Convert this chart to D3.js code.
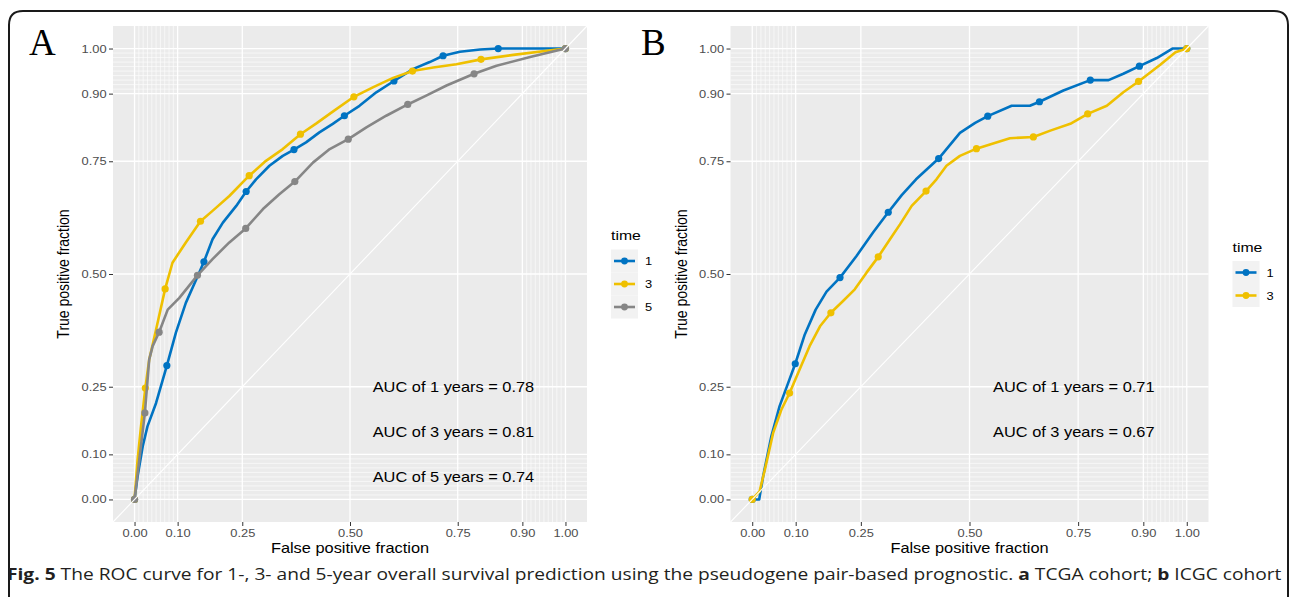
<!DOCTYPE html>
<html>
<head>
<meta charset="utf-8">
<script src="https://cdn.jsdelivr.net/npm/d3@7"></script>
<style>
  body { margin: 0; background: #fff; }
  svg { display: block; }
</style>
</head>
<body>
<div id="chart-area"></div>
<script>
// ROC curves, two panels (TCGA / ICGC)

const svgWidth = 1292;
const svgHeight = 597;
const SX = 1.17;  // the figure is a bit stretched sideways

// axis breaks (plotROC style)
var majorBreaks = [0, 0.1, 0.25, 0.5, 0.75, 0.9, 1];
var minorBreaks = [0.01, 0.02, 0.03, 0.04, 0.05, 0.06, 0.07, 0.08, 0.09,
                   0.91, 0.92, 0.93, 0.94, 0.95, 0.96, 0.97, 0.98, 0.99];

var times = ["1", "3", "5"];
var colors = {"1": "#0073C2", "3": "#EFC000", "5": "#868686"};

// panel A (TCGA) : [false positive fraction, true positive fraction]
var aYear1 = [[0,0],[0.007,0.051],[0.019,0.118],[0.030,0.162],[0.050,0.214],[0.075,0.297],
  [0.096,0.370],[0.119,0.436],[0.147,0.496],[0.161,0.527],[0.181,0.577],[0.205,0.614],
  [0.236,0.651],[0.259,0.683],[0.282,0.710],[0.313,0.740],[0.344,0.762],[0.370,0.776],
  [0.398,0.792],[0.429,0.814],[0.460,0.833],[0.487,0.851],[0.522,0.873],[0.561,0.903],
  [0.602,0.928],[0.647,0.955],[0.685,0.970],[0.716,0.984],[0.755,0.993],[0.802,0.998],
  [0.844,1.0],[1,1]];
var aYear1Cuts = [0, 5, 9, 13, 17, 21, 24, 27, 30, 31];

var aYear3 = [[0,0],[0.007,0.088],[0.015,0.162],[0.025,0.247],[0.034,0.310],[0.050,0.377],
  [0.071,0.467],[0.088,0.525],[0.119,0.570],[0.153,0.617],[0.181,0.640],[0.220,0.673],
  [0.266,0.718],[0.305,0.751],[0.344,0.777],[0.385,0.810],[0.422,0.834],[0.460,0.860],
  [0.509,0.893],[0.553,0.914],[0.600,0.935],[0.645,0.950],[0.693,0.958],[0.747,0.965],
  [0.804,0.976],[0.879,0.986],[1,1]];
var aYear3Cuts = [0, 3, 6, 9, 12, 15, 18, 21, 24, 26];

var aYear5 = [[0,0],[0.011,0.088],[0.024,0.192],[0.034,0.310],[0.042,0.340],[0.057,0.371],
  [0.077,0.421],[0.104,0.447],[0.146,0.497],[0.181,0.533],[0.220,0.570],[0.258,0.601],
  [0.298,0.644],[0.336,0.677],[0.372,0.705],[0.414,0.747],[0.453,0.777],[0.496,0.799],
  [0.538,0.825],[0.584,0.851],[0.634,0.876],[0.678,0.896],[0.724,0.918],[0.788,0.944],
  [0.840,0.962],[0.918,0.981],[1,1]];
var aYear5Cuts = [0, 2, 5, 8, 11, 14, 17, 20, 23, 26];

var aAuc = ["AUC of 1 years = 0.78", "AUC of 3 years = 0.81", "AUC of 5 years = 0.74"];

// panel B (ICGC)
var bYear1 = [[0,0],[0.016,0],[0.025,0.051],[0.044,0.140],[0.063,0.207],[0.083,0.259],
  [0.099,0.301],[0.121,0.366],[0.146,0.421],[0.171,0.461],[0.202,0.492],[0.240,0.540],
  [0.278,0.592],[0.313,0.637],[0.344,0.675],[0.377,0.710],[0.429,0.756],[0.478,0.813],
  [0.513,0.835],[0.542,0.850],[0.597,0.873],[0.639,0.873],[0.661,0.882],[0.716,0.907],
  [0.778,0.930],[0.820,0.930],[0.854,0.944],[0.891,0.961],[0.931,0.979],[0.967,1.0],[1,1]];
var bYear1Cuts = [0, 6, 10, 13, 16, 19, 22, 24, 27, 30];

var bYear3 = [[0,0],[0.017,0.018],[0.029,0.066],[0.048,0.147],[0.067,0.199],[0.086,0.236],
  [0.109,0.288],[0.132,0.340],[0.156,0.384],[0.181,0.414],[0.209,0.440],[0.236,0.466],
  [0.263,0.503],[0.290,0.538],[0.317,0.577],[0.340,0.610],[0.367,0.651],[0.400,0.684],
  [0.424,0.710],[0.447,0.740],[0.478,0.762],[0.516,0.778],[0.547,0.787],[0.593,0.801],
  [0.647,0.804],[0.686,0.818],[0.732,0.833],[0.772,0.855],[0.816,0.873],[0.854,0.903],
  [0.889,0.927],[0.939,0.964],[0.974,0.992],[1,1]];
var bYear3Cuts = [0, 5, 9, 13, 17, 21, 24, 27, 30, 33];

var bAuc = ["AUC of 1 years = 0.71", "AUC of 3 years = 0.67"];
var aucY = [0.25, 0.15, 0.05];

var svg = d3.select("#chart-area")
    .append("svg")
        .attr("width", svgWidth)
        .attr("height", svgHeight);

// outer frame
svg.append("path")
    .attr("d", "M9,598 L9,25 Q9,11 23,11 L1274,11 Q1288,11 1288,25 L1288,598")
    .attr("fill", "none")
    .attr("stroke", "#1a1a1a")
    .attr("stroke-width", 2);

function drawPanel(p) {
    var x = d3.scaleLinear().domain([-0.05, 1.05]).range([p.left, p.right]);
    var y = d3.scaleLinear().domain([-0.05, 1.05]).range([p.bottom, p.top]);
    var g = svg.append("g");

    // background
    g.append("rect")
        .attr("x", p.left).attr("y", p.top)
        .attr("width", p.right - p.left).attr("height", p.bottom - p.top)
        .attr("fill", "#EBEBEB");

    // minor grid
    g.selectAll(".vminor").data(minorBreaks).enter().append("line")
        .attr("x1", function(d){ return x(d); }).attr("x2", function(d){ return x(d); })
        .attr("y1", p.top).attr("y2", p.bottom)
        .attr("stroke", "#fff").attr("stroke-width", 0.6);
    g.selectAll(".hminor").data(minorBreaks).enter().append("line")
        .attr("y1", function(d){ return y(d); }).attr("y2", function(d){ return y(d); })
        .attr("x1", p.left).attr("x2", p.right)
        .attr("stroke", "#fff").attr("stroke-width", 0.6);
    // major grid
    g.selectAll(".vmajor").data(majorBreaks).enter().append("line")
        .attr("x1", function(d){ return x(d); }).attr("x2", function(d){ return x(d); })
        .attr("y1", p.top).attr("y2", p.bottom)
        .attr("stroke", "#fff").attr("stroke-width", 1.3);
    g.selectAll(".hmajor").data(majorBreaks).enter().append("line")
        .attr("y1", function(d){ return y(d); }).attr("y2", function(d){ return y(d); })
        .attr("x1", p.left).attr("x2", p.right)
        .attr("stroke", "#fff").attr("stroke-width", 1.3);

    // curves
    var line = d3.line()
        .x(function(d){ return x(d[0]); })
        .y(function(d){ return y(d[1]); });

    p.series.forEach(function(s){
        g.append("path")
            .datum(s.values)
            .attr("d", line)
            .attr("fill", "none")
            .attr("stroke", colors[s.time])
            .attr("stroke-width", 2.6)
            .attr("stroke-linejoin", "round");
        g.selectAll(null)
            .data(s.cuts.map(function(i){ return s.values[i]; }))
            .enter().append("circle")
            .attr("cx", function(d){ return x(d[0]); })
            .attr("cy", function(d){ return y(d[1]); })
            .attr("r", 3.6)
            .attr("fill", colors[s.time]);
    });

    // reference diagonal (drawn on top like the ggplot layer)
    g.append("line")
        .attr("x1", x(-0.05)).attr("y1", y(-0.05))
        .attr("x2", x(1.05)).attr("y2", y(1.05))
        .attr("stroke", "#fff").attr("stroke-width", 1.1);

    // AUC labels
    p.auc.forEach(function(t, i){
        g.append("text")
            .attr("transform", "translate(" + x(0.74) + "," + (y(aucY[i]) + 5) + ") scale(" + SX + ",1)")
            .attr("text-anchor", "middle")
            .attr("font-family", "Liberation Sans, Arial, sans-serif")
            .attr("font-size", "14px")
            .attr("fill", "#000")
            .text(t);
    });

    // axes
    var xAxisCall = d3.axisBottom(x).tickValues(majorBreaks)
        .tickFormat(d3.format(".2f")).tickSize(4).tickSizeOuter(0);
    var xg = g.append("g")
        .attr("transform", "translate(0," + p.bottom + ")")
        .call(xAxisCall);
    var yAxisCall = d3.axisLeft(y).tickValues(majorBreaks)
        .tickFormat(d3.format(".2f")).tickSize(4).tickSizeOuter(0);
    var yg = g.append("g")
        .attr("transform", "translate(" + p.left + ",0)")
        .call(yAxisCall);
    [xg, yg].forEach(function(a){
        a.select(".domain").remove();
        a.selectAll(".tick line").attr("stroke", "#333333").attr("stroke-width", 1);
        a.selectAll(".tick text")
            .attr("fill", "#4D4D4D")
            .attr("font-family", "Liberation Sans, Arial, sans-serif")
            .attr("font-size", "11px")
            .attr("transform", "scale(" + SX + ",1)");
    });
    xg.selectAll(".tick text").attr("y", 7);
    yg.selectAll(".tick text").attr("x", -5.5);

    // axis titles
    g.append("text")
        .attr("transform", "translate(" + ((p.left + p.right) / 2) + "," + (p.bottom + 31) + ") scale(" + SX + ",1)")
        .attr("text-anchor", "middle")
        .attr("font-family", "Liberation Sans, Arial, sans-serif")
        .attr("font-size", "14px")
        .text("False positive fraction");
    g.append("text")
        .attr("transform", "translate(" + (p.left - 44) + "," + ((p.top + p.bottom) / 2) + ") scale(" + SX + ",1) rotate(-90)")
        .attr("text-anchor", "middle")
        .attr("font-family", "Liberation Sans, Arial, sans-serif")
        .attr("font-size", "14px")
        .text("True positive fraction");

    // legend
    var keyH = 23, keyW = 27;
    var n = p.series.length;
    var lx = p.right + 24;
    var ly = (p.top + p.bottom) / 2 - (n * keyH) / 2 + 10;
    var leg = g.append("g");
    leg.append("text")
        .attr("transform", "translate(" + lx + "," + (ly - 9.5) + ") scale(" + SX + ",1)")
        .attr("font-family", "Liberation Sans, Arial, sans-serif")
        .attr("font-size", "13.5px")
        .text("time");
    p.series.forEach(function(s, i){
        var ky = ly + i * keyH;
        leg.append("rect")
            .attr("x", lx).attr("y", ky).attr("width", keyW).attr("height", keyH)
            .attr("fill", "#F2F2F2");
        leg.append("line")
            .attr("x1", lx + 3).attr("x2", lx + keyW - 3)
            .attr("y1", ky + keyH / 2).attr("y2", ky + keyH / 2)
            .attr("stroke", colors[s.time]).attr("stroke-width", 2.6);
        leg.append("circle")
            .attr("cx", lx + keyW / 2).attr("cy", ky + keyH / 2).attr("r", 3.4)
            .attr("fill", colors[s.time]);
        leg.append("text")
            .attr("transform", "translate(" + (lx + keyW + 7) + "," + (ky + keyH / 2 + 4) + ") scale(" + SX + ",1)")
            .attr("font-family", "Liberation Sans, Arial, sans-serif")
            .attr("font-size", "11px")
            .text(s.time);
    });

    // panel letter
    svg.append("text")
        .attr("x", p.letterX).attr("y", 55)
        .attr("font-family", "Liberation Serif, Times New Roman, serif")
        .attr("font-size", "37px")
        .text(p.letter);
}

drawPanel({
    left: 113, right: 587, top: 26, bottom: 522,
    letter: "A", letterX: 29,
    series: [
        {time: times[0], values: aYear1, cuts: aYear1Cuts},
        {time: times[1], values: aYear3, cuts: aYear3Cuts},
        {time: times[2], values: aYear5, cuts: aYear5Cuts}
    ],
    auc: aAuc
});

drawPanel({
    left: 730.5, right: 1208.5, top: 26, bottom: 522,
    letter: "B", letterX: 641,
    series: [
        {time: times[0], values: bYear1, cuts: bYear1Cuts},
        {time: times[1], values: bYear3, cuts: bYear3Cuts}
    ],
    auc: bAuc
});

// caption (condensed look: squeeze to the frame width)
var cap = svg.append("text")
    .attr("font-family", "Open Sans, Noto Sans, sans-serif")
    .attr("font-size", "16.5px")
    .attr("fill", "#231F20");
cap.append("tspan").attr("font-weight", "bold").text("Fig. 5");
cap.append("tspan").text(" The ROC curve for 1-, 3- and 5-year overall survival prediction using the pseudogene pair-based prognostic. ");
cap.append("tspan").attr("font-weight", "bold").text("a");
cap.append("tspan").text(" TCGA cohort; ");
cap.append("tspan").attr("font-weight", "bold").text("b");
cap.append("tspan").text(" ICGC cohort");
var capW = cap.node().getComputedTextLength();
cap.attr("transform", "translate(7,580) scale(" + (1276 / capW) + ",1)");
</script>
</body>
</html>
